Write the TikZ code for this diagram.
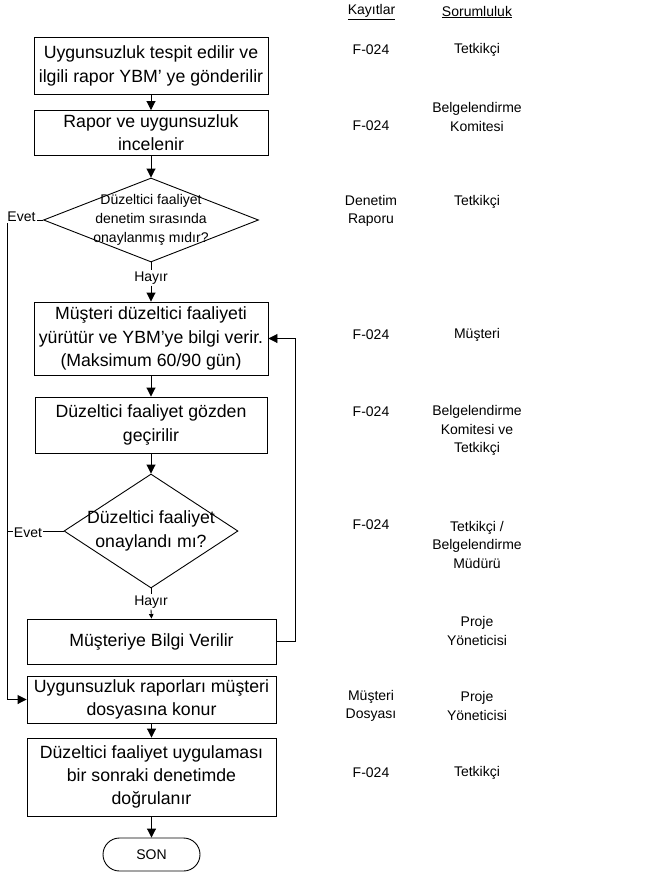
\documentclass[tikz,border=0pt]{standalone}
\usepackage{fontspec}
\setmainfont{Liberation Sans}
\usetikzlibrary{arrows.meta,shapes.geometric,shapes.misc}
\tikzset{
  every path/.style={line width=0.9pt},
  proc/.style={draw, rectangle, inner sep=0pt, align=center, font=\fontsize{17.7}{23.3}\selectfont},
  dec/.style={draw, diamond, inner sep=0pt},
  dectext/.style={align=center, inner sep=0pt},
  lab/.style={font=\fontsize{14}{18}\selectfont, inner sep=1pt, fill=white},
  col/.style={align=center, inner sep=0pt, font=\fontsize{14}{18.5}\selectfont},
  arr/.style={-{Triangle[length=9pt,width=9pt]}},
  sarr/.style={-{Triangle[length=4.5pt,width=4.5pt]}},
  term/.style={draw, rounded rectangle, inner sep=0pt, font=\fontsize{14}{18}\selectfont}
}
\begin{document}
\begin{tikzpicture}[x=1pt,y=-1pt]
\useasboundingbox (0,0) rectangle (651,872);
% flow nodes
\node[proc, minimum width=234pt, minimum height=57pt] (b1) at (151,66) {Uygunsuzluk tespit edilir ve\\ilgili rapor YBM’ ye gönderilir};
\node[proc, minimum width=234pt, minimum height=45pt] (b2) at (151,133) {Rapor ve uygunsuzluk\\incelenir};
\node[dec, minimum width=215pt, minimum height=84pt] (d1) at (151,220) {};
\node[dectext, font=\fontsize{14}{18.7}\selectfont] (d1t) at (151,220) {Düzeltici faaliyet\\denetim sırasında\\onaylanmış mıdır?};
\node[lab, fill=none] (h1) at (151,278) {Hayır};
\node[proc, minimum width=234pt, minimum height=73pt] (b3) at (151,338.5) {Müşteri düzeltici faaliyeti\\yürütür ve YBM’ye bilgi verir.\\(Maksimum 60/90 gün)};
\node[proc, minimum width=232pt, minimum height=56pt] (b4) at (151,425) {Düzeltici faaliyet gözden\\geçirilir};
\node[dec, minimum width=174pt, minimum height=114pt] (d2) at (151,531) {};
\node[dectext, font=\fontsize{17.7}{23.3}\selectfont] (d2t) at (151,531) {Düzeltici faaliyet\\onaylandı mı?};
\node[lab, fill=none] (h2) at (151,602) {Hayır};
\node[proc, minimum width=249pt, minimum height=45pt] (b5) at (151.5,641.5) {Müşteriye Bilgi Verilir};
\node[proc, minimum width=249pt, minimum height=47pt] (b6) at (151.5,699.5) {Uygunsuzluk raporları müşteri\\dosyasına konur};
\node[proc, minimum width=249pt, minimum height=78pt] (b7) at (151.5,777) {Düzeltici faaliyet uygulaması\\bir sonraki denetimde\\doğrulanır};
\node[term, minimum width=97pt, minimum height=33pt] (son) at (151.5,854.5) {SON};
% helper coordinates
\coordinate (ex) at (7.5,220);
\coordinate (fx) at (295,0);
% connectors
\draw[arr] (b1) -- (b2);
\draw[arr] (b2) -- (d1);
\draw (d1.south) -- (h1.north);
\draw[arr] (h1.south) -- (b3.north);
\draw[arr] (b3) -- (b4);
\draw[arr] (b4) -- (d2);
\draw (d2.south) -- (h2.north);
\draw[sarr] (h2.south) -- (b5.north);
\draw[arr] (b6) -- (b7);
\draw[arr] (b7) -- (son);
\draw[arr] (d1.west) -- (d1.west -| ex) -- (ex |- b6.west) -- (b6.west);
\draw (d2.west) -- (d2.west -| ex);
\draw[arr] (b5.east) -- (b5.east -| fx) -- (fx |- b3.east) -- (b3.east);
\node[lab] (e1) at (21.5,217) {Evet};
\node[lab, inner sep=0.5pt] (e2) at (28,533) {Evet};
% right columns
\node[col] (kh) at (371.5,12) {\underline{Kayıtlar}};
\node[col] (sh) at (477,12) {\underline{Sorumluluk}};
\node[col] (r1a) at (371,50) {F-024};
\node[col] (r1b) at (477,50) {Tetkikçi};
\node[col] (r2a) at (371,126) {F-024};
\node[col] (r2b) at (477,117) {Belgelendirme\\Komitesi};
\node[col] (r3a) at (371,211) {Denetim\\Raporu};
\node[col] (r3b) at (477,202) {Tetkikçi};
\node[col] (r4a) at (371,335) {F-024};
\node[col] (r4b) at (477,335) {Müşteri};
\node[col] (r5a) at (371,412) {F-024};
\node[col] (r5b) at (477,430.5) {Belgelendirme\\Komitesi ve\\Tetkikçi};
\node[col] (r6a) at (371,525) {F-024};
\node[col] (r6b) at (477,544.5) {Tetkikçi /\\Belgelendirme\\Müdürü};
\node[col] (r7b) at (477,631) {Proje\\Yöneticisi};
\node[col] (r8a) at (371,706) {Müşteri\\Dosyası};
\node[col] (r8b) at (477,706) {Proje\\Yöneticisi};
\node[col] (r9a) at (371,773) {F-024};
\node[col] (r9b) at (477,773) {Tetkikçi};
\end{tikzpicture}
\end{document}
